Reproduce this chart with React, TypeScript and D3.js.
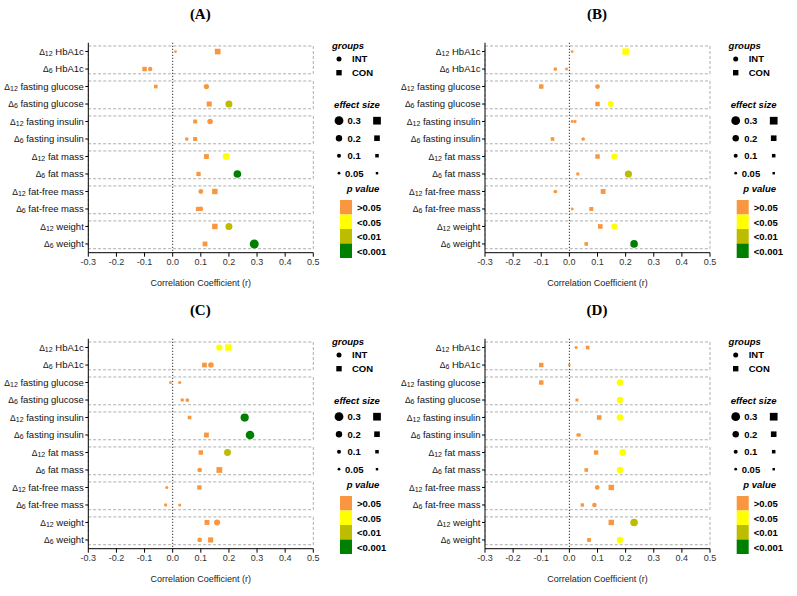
import React from "react";
import * as d3 from "d3";

const rowSubs = ["12", "6", "12", "6", "12", "6", "12", "6", "12", "6", "12", "6"];
const rowNames = ["HbA1c", "HbA1c", "fasting glucose", "fasting glucose", "fasting insulin", "fasting insulin", "fat mass", "fat mass", "fat-free mass", "fat-free mass", "weight", "weight"];
const xTicks = [-0.3, -0.2, -0.1, 0.0, 0.1, 0.2, 0.3, 0.4, 0.5];

// p codes: 0 >0.05, 1 <0.05, 2 <0.01, 3 <0.001
const A_int = [0.01, -0.08, 0.12, 0.20, 0.133, 0.05, 0.19, 0.23, 0.10, 0.10, 0.20, 0.29];
const A_con = [0.16, -0.10, -0.06, 0.13, 0.08, 0.08, 0.12, 0.092, 0.15, 0.09, 0.15, 0.115];
const A_intP = [0, 0, 0, 2, 0, 0, 1, 3, 0, 0, 2, 3];
const A_conP = [0, 0, 0, 0, 0, 0, 0, 0, 0, 0, 0, 0];

const B_int = [0.01, -0.05, 0.10, 0.147, 0.01, 0.049, 0.16, 0.21, -0.05, 0.01, 0.16, 0.23];
const B_con = [0.20, -0.01, -0.10, 0.10, 0.02, -0.06, 0.10, 0.03, 0.12, 0.078, 0.11, 0.06];
const B_intP = [0, 0, 0, 1, 0, 0, 1, 2, 0, 0, 1, 3];
const B_conP = [1, 0, 0, 0, 0, 0, 0, 0, 0, 0, 0, 0];

const C_int = [0.166, 0.136, 0.025, 0.052, 0.256, 0.275, 0.195, 0.096, -0.021, 0.025, 0.158, 0.096];
const C_con = [0.198, 0.113, -0.008, 0.034, 0.06, 0.12, 0.10, 0.166, 0.095, -0.025, 0.122, 0.135];
const C_intP = [1, 0, 0, 0, 3, 3, 2, 0, 0, 0, 0, 0];
const C_conP = [1, 0, 0, 0, 0, 0, 0, 0, 0, 0, 0, 0];

const D_int = [0.024, 0.0, 0.18, 0.18, 0.18, 0.03, 0.19, 0.18, 0.099, 0.089, 0.23, 0.18];
const D_con = [0.065, -0.10, -0.10, 0.027, 0.106, 0.035, 0.095, 0.06, 0.149, 0.046, 0.149, 0.07];
const D_intP = [0, 0, 1, 1, 1, 0, 1, 1, 0, 0, 2, 1];
const D_conP = [0, 0, 0, 0, 0, 0, 0, 0, 0, 0, 0, 0];

const pColors = ["#F8973F", "#FFFF00", "#BDBD00", "#008000"];
const pLabels = [">0.05", "<0.05", "<0.01", "<0.001"];
const sizeLegend = [0.3, 0.2, 0.1, 0.05];
const panelTitles = ["(A)", "(B)", "(C)", "(D)"];

const panels = [
  { title: panelTitles[0], ox: 0, oy: 0, int: A_int, con: A_con, intP: A_intP, conP: A_conP },
  { title: panelTitles[1], ox: 396.7, oy: 0, int: B_int, con: B_con, intP: B_intP, conP: B_conP },
  { title: panelTitles[2], ox: 0, oy: 296, int: C_int, con: C_con, intP: C_intP, conP: C_conP },
  { title: panelTitles[3], ox: 396.7, oy: 296, int: D_int, con: D_con, intP: D_intP, conP: D_conP },
];

const SANS = "'Liberation Sans', Arial, sans-serif";
const rScale = d3.scaleLinear().domain([0, 0.3]).range([1.3, 4.6]);
const legR = d3.scaleLinear().domain([0.05, 0.3]).range([1.4, 4.4]);

function Panel({ p }: { p: any }) {
  const x = d3.scaleLinear().domain([-0.3, 0.5]).range([88.3 + p.ox, 313.3 + p.ox]);
  const rows = d3.range(12);
  const y = d3.scaleBand<number>().domain(rows).range([42.8 + p.oy, 252.7 + p.oy]).paddingInner(0).paddingOuter(0);
  const bw = y.bandwidth();
  const yc = (i: number) => (y(i) as number) + bw / 2;
  const axisY = 252.7 + p.oy;
  const axisX = x(-0.3);
  const groups = d3.range(6);
  const lx = 339 + p.ox;
  const ly = p.oy;
  return (
    <g>
      <text x={x(0.1) - 0.5} y={19 + p.oy} textAnchor="middle" fontFamily="'Liberation Serif', 'Times New Roman', serif" fontWeight="bold" fontSize={15}>{p.title}</text>
      {groups.map((g) => {
        const top = (y(g * 2) as number) + 3.2;
        const bot = (y(g * 2 + 1) as number) + bw - 4;
        return <rect key={"b" + g} x={axisX} y={top} width={x(0.5) - axisX} height={bot - top} fill="none" stroke="#9a9a9a" strokeWidth={0.8} strokeDasharray="3,2" />;
      })}
      <line x1={x(0)} x2={x(0)} y1={42.8 + p.oy} y2={axisY} stroke="#000" strokeWidth={1} strokeDasharray="1,2" />
      {/* y axis */}
      <line x1={axisX} x2={axisX} y1={42.8 + p.oy} y2={axisY} stroke="#000" strokeWidth={1} />
      {rows.map((i) => (
        <g key={"yl" + i}>
          <line x1={axisX - 3} x2={axisX} y1={yc(i)} y2={yc(i)} stroke="#000" strokeWidth={1} />
          <text x={axisX - 4.5} y={yc(i) + 3.3} textAnchor="end" fontFamily={SANS} fontSize={9.5} fill="#111">
            <tspan fontSize={8.5}>Δ</tspan>
            <tspan fontSize={7} dy={1}>{rowSubs[i]}</tspan>
            <tspan dy={-1}>{" " + rowNames[i]}</tspan>
          </text>
        </g>
      ))}
      {/* x axis */}
      <line x1={axisX} x2={x(0.5)} y1={axisY} y2={axisY} stroke="#000" strokeWidth={1} />
      {xTicks.map((t) => (
        <g key={"xt" + t}>
          <line x1={x(t)} x2={x(t)} y1={axisY} y2={axisY + 4} stroke="#000" strokeWidth={1} />
          <text x={x(t)} y={axisY + 12.5} textAnchor="middle" fontFamily={SANS} fontSize={9} fill="#333">{t.toFixed(1)}</text>
        </g>
      ))}
      <text x={x(0.1)} y={axisY + 33.5} textAnchor="middle" fontFamily={SANS} fontSize={9} fill="#222">Correlation Coefficient (r)</text>
      {/* markers */}
      {rows.map((i) => {
        const r = rScale(Math.abs(p.int[i]));
        return <circle key={"c" + i} cx={x(p.int[i])} cy={yc(i)} r={r} fill={pColors[p.intP[i]]} />;
      })}
      {rows.map((i) => {
        const s = rScale(Math.abs(p.con[i])) * 1.85;
        return <rect key={"s" + i} x={x(p.con[i]) - s / 2} y={yc(i) - s / 2} width={s} height={s} fill={pColors[p.conP[i]]} />;
      })}
      {/* legend */}
      <g fontFamily={SANS} fontWeight="bold" fontSize={9.5} fill="#000">
        <text x={lx + 9} y={ly + 48.5} textAnchor="middle" fontStyle="italic">groups</text>
        <circle cx={lx} cy={ly + 59} r={2.5} fill="#000" />
        <text x={lx + 13} y={ly + 62.3}>INT</text>
        <rect x={lx - 2.7} y={ly + 70} width={5.4} height={5.4} fill="#000" />
        <text x={lx + 13} y={ly + 76}>CON</text>
        <text x={lx + 18} y={ly + 107.5} textAnchor="middle" fontStyle="italic">effect size</text>
        {sizeLegend.map((v, k) => {
          const cy = ly + 120.7 + k * 17.5;
          const r = legR(v);
          const s = r * 1.75;
          return (
            <g key={"sl" + k}>
              <circle cx={lx} cy={cy} r={r} fill="#000" />
              <text x={lx + (v === 0.05 ? 6 : 8.5)} y={cy + 3.3}>{String(v)}</text>
              <rect x={lx + 38 - s / 2} y={cy - s / 2} width={s} height={s} fill="#000" />
            </g>
          );
        })}
        <text x={lx + 24} y={ly + 192} textAnchor="middle" fontStyle="italic">p value</text>
        {pColors.map((c, k) => (
          <g key={"pl" + k}>
            <rect x={lx + 1} y={ly + 200 + k * 14.5} width={12} height={14.5} fill={c} />
            <text x={lx + 18} y={ly + 211 + k * 14.5}>{pLabels[k]}</text>
          </g>
        ))}
      </g>
    </g>
  );
}

export default function App() {
  return (
    <svg width={797} height={596} style={{ position: "absolute", left: 0, top: 0, background: "#fff" }}>
      <rect x={0} y={0} width={797} height={596} fill="#fff" />
      {panels.map((p, i) => <Panel key={i} p={p} />)}
    </svg>
  );
}
